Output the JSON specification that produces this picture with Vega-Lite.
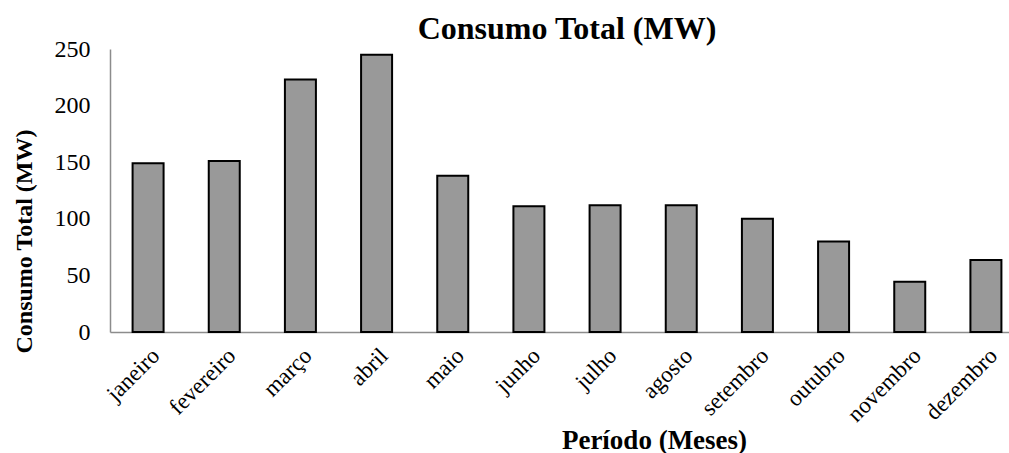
{
  "$schema": "https://vega.github.io/schema/vega-lite/v6.json",
  "autosize": {"type": "none"},
  "width": 914,
  "height": 283,
  "padding": {"left": 110, "top": 49, "right": -15, "bottom": 121},
  "background": "white",
  "config": {
    "view": {"stroke": null},
    "font": "Liberation Serif"
  },
  "title": {
    "text": "Consumo Total (MW)",
    "font": "Liberation Serif",
    "fontSize": 32,
    "fontWeight": "bold",
    "color": "black",
    "anchor": "middle",
    "baseline": "bottom",
    "offset": -9,
    "dy": 32
  },
  "data": {
    "values": [
      {"mes": "janeiro", "consumo": 149},
      {"mes": "fevereiro", "consumo": 151},
      {"mes": "março", "consumo": 223},
      {"mes": "abril", "consumo": 245},
      {"mes": "maio", "consumo": 138},
      {"mes": "junho", "consumo": 111},
      {"mes": "julho", "consumo": 112},
      {"mes": "agosto", "consumo": 112},
      {"mes": "setembro", "consumo": 100},
      {"mes": "outubro", "consumo": 80},
      {"mes": "novembro", "consumo": 44.5},
      {"mes": "dezembro", "consumo": 63.5}
    ]
  },
  "mark": {"type": "bar", "fill": "#999999", "stroke": "#000000", "strokeWidth": 2},
  "encoding": {
    "x": {
      "field": "mes",
      "type": "nominal",
      "sort": null,
      "scale": {"paddingInner": 0.593, "paddingOuter": 0.2965},
      "axis": {
        "title": "Período (Meses)",
        "titleFont": "Liberation Serif",
        "titleFontSize": 27,
        "titleFontWeight": "bold",
        "titleColor": "black",
        "titleX": 544,
        "titleY": 108,
        "titleBaseline": "middle",
        "titleAlign": "center",
        "labelAngle": -45,
        "labelFont": "Liberation Serif",
        "labelFontSize": 23,
        "labelColor": "black",
        "labelPadding": 12,
        "ticks": false,
        "domainColor": "#8c8c8c",
        "domainWidth": 1.5,
        "grid": false
      }
    },
    "y": {
      "field": "consumo",
      "type": "quantitative",
      "scale": {"domain": [0, 250]},
      "axis": {
        "title": "Consumo Total (MW)",
        "titleFont": "Liberation Serif",
        "titleFontSize": 24,
        "titleFontWeight": "bold",
        "titleColor": "black",
        "titleX": -86,
        "titleY": 192,
        "titleBaseline": "middle",
        "titleAlign": "center",
        "titleAngle": -90,
        "values": [0, 50, 100, 150, 200, 250],
        "labelFont": "Liberation Serif",
        "labelFontSize": 24,
        "labelColor": "black",
        "labelPadding": 20,
        "ticks": false,
        "grid": false,
        "domainColor": "#8c8c8c",
        "domainWidth": 1.5
      }
    }
  }
}
